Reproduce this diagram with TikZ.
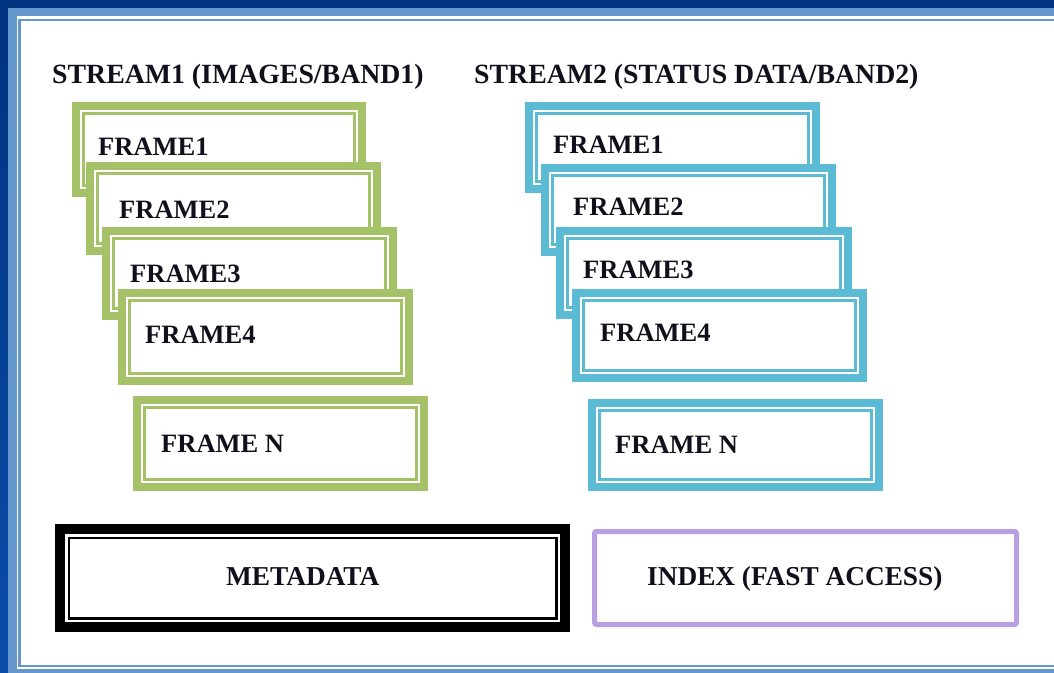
\documentclass[tikz,border=0pt]{standalone}
\usepackage{fontspec}
\setmainfont{Liberation Serif}
\definecolor{grn}{HTML}{A6C268}
\definecolor{aqua}{HTML}{5BBAD4}
\definecolor{purp}{HTML}{B9A0E4}
\definecolor{lblue}{HTML}{6498CC}
\definecolor{dblue}{HTML}{003380}
\definecolor{dblueb}{HTML}{0A4DAA}
\definecolor{ink}{HTML}{10101C}
\tikzset{
  framebox/.style={draw=#1, line width=8pt, fill=white, inner sep=0pt, outer sep=0pt, rectangle},
  innerline/.style={draw=#1, line width=2.5pt},
  lbl/.style={font=\bfseries\fontsize{26.5}{30}\selectfont, text=ink, inner sep=0pt, anchor=base west},
  hdr/.style={lbl, font=\bfseries\fontsize{27.8}{30}\selectfont},
  big/.style={lbl, font=\bfseries\fontsize{27.3}{30}\selectfont},
}
\newcommand\stackbox[6]{%
  \node[framebox=#2, minimum width={#5-#3-8}, minimum height={#6-#4-8}] (#1) at ({(#3+#5)/2},{(#4+#6)/2}) {};
  \draw[innerline=#2] ([shift={(7.5,7.5)}]#1.north west) rectangle ([shift={(-7.5,-7.5)}]#1.south east);
}
\begin{document}
\begin{tikzpicture}[x=1pt,y=-1pt]
\useasboundingbox (0,0) rectangle (1054,672);
% page border
\shade[top color=dblue, bottom color=dblueb] (0,0) rectangle (1054,672);
\fill[dblue] (0,0) rectangle (1054,8);
\fill[lblue] (8,7.5) rectangle (1070,690);
\fill[white] (17,15.5) rectangle (1070,669.3);
\draw[lblue, line width=2.6pt] (19.7,19.8) rectangle (1070,666);
% headers
\node[hdr] (h1) at (52,83) {STREAM1 (IMAGES/BAND1)};
\node[hdr] (h2) at (474,83) {STREAM2 (STATUS DATA/BAND2)};
% stream 1
\stackbox{g1}{grn}{72}{102}{366}{197}
\node[lbl] (tg1) at (98,155) {FRAME1};
\stackbox{g2}{grn}{86}{162}{381}{255}
\node[lbl] (tg2) at (119,218) {FRAME2};
\stackbox{g3}{grn}{102}{227}{397}{320}
\node[lbl] (tg3) at (130,282) {FRAME3};
\stackbox{g4}{grn}{118}{289}{413}{385}
\node[lbl] (tg4) at (145,343) {FRAME4};
\stackbox{gn}{grn}{133}{396}{428}{491}
\node[lbl] (tgn) at (161,452) {FRAME N};
% stream 2
\stackbox{b1}{aqua}{525}{102}{820}{193}
\node[lbl] (tb1) at (553,153) {FRAME1};
\stackbox{b2}{aqua}{541}{164}{836}{256}
\node[lbl] (tb2) at (573,215) {FRAME2};
\stackbox{b3}{aqua}{556}{227}{852}{319}
\node[lbl] (tb3) at (583,278) {FRAME3};
\stackbox{b4}{aqua}{572}{289}{867}{382}
\node[lbl] (tb4) at (600,341) {FRAME4};
\stackbox{bn}{aqua}{588}{399}{883}{491}
\node[lbl] (tbn) at (615,453) {FRAME N};
% metadata
\node[draw=black, line width=10pt, fill=white, inner sep=0pt, outer sep=0pt, minimum width=505pt, minimum height=98pt] (meta) at (312.5,578) {};
\draw[black, line width=2.6pt] ([shift={(8.8,8.8)}]meta.north west) rectangle ([shift={(-8.8,-8.8)}]meta.south east);
\node[big] (tmeta) at (226,585) {METADATA};
% index
\node[draw=purp, line width=5pt, fill=white, rounded corners=2pt, inner sep=0pt, outer sep=0pt, minimum width=422pt, minimum height=93pt] (idx) at (805.5,578) {};
\node[big] (tidx) at (647,585) {INDEX (FAST ACCESS)};
\end{tikzpicture}
\end{document}
